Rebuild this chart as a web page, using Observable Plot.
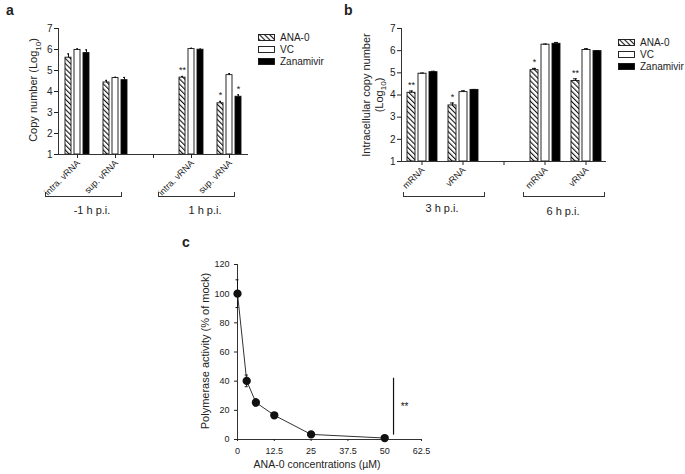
<!DOCTYPE html>
<html><head><meta charset="utf-8">
<script src="https://cdn.jsdelivr.net/npm/d3@7"></script>
<script src="https://cdn.jsdelivr.net/npm/@observablehq/plot@0.6"></script>
<style>
body{margin:0;background:#fff;font-family:"Liberation Sans",Arial,sans-serif;color:#222;}
#root{position:relative;width:685px;height:474px;overflow:hidden;background:#fff;}
.plab{position:absolute;font-weight:bold;font-size:14px;}
.ylab{position:absolute;font-size:11px;white-space:nowrap;transform:translate(-50%,-50%) rotate(-90deg);text-align:center;line-height:13px;}
.brk{position:absolute;border:1px solid #333;border-top:none;height:4px;}
.grp{position:absolute;font-size:11px;transform:translate(-50%,-50%);white-space:nowrap;}
.leg{position:absolute;font-size:10px;}
.leg .row{display:flex;align-items:center;height:12px;}
.leg svg{margin-right:5px;}
</style></head>
<body>
<svg width="0" height="0" style="position:absolute">
  <defs>
    <pattern id="hatch" patternUnits="userSpaceOnUse" width="3.6" height="3.6" patternTransform="rotate(-45)">
      <rect width="3.6" height="3.6" fill="white"/>
      <line x1="0" y1="0" x2="0" y2="3.6" stroke="#111" stroke-width="2.2"/>
    </pattern>
  </defs>
</svg>
<div id="root"></div>
<script>
// ---------- Data ----------
const series = ["ANA-0", "VC", "Zanamivir"];
const seriesFill = ["url(#hatch)", "white", "black"];

// Panel a
const catsA = ["m1_intra", "m1_sup", "gapA", "p1_intra", "p1_sup"];
const catLabelsA = ["intra. vRNA", "sup. vRNA", "", "intra. vRNA", "sup. vRNA"];
const aANA = [5.61, 4.43, null, 4.66, 3.44];
const aVC  = [5.98, 4.64, null, 6.02, 4.78];
const aZan = [5.83, 4.54, null, 5.99, 3.75];
const aErrANA = [0.18, 0.10, null, 0.06, 0.09];
const aErrVC  = [0.05, 0.04, null, 0.04, 0.07];
const aErrZan = [0.15, 0.13, null, 0.03, 0.09];
const aSigANA = ["", "", "", "**", "*"];
const aSigVC  = ["", "", "", "", ""];
const aSigZan = ["", "", "", "", "*"];
const groupsA = ["-1 h p.i.", "1 h p.i."];

// Panel b
const catsB = ["h3_m", "h3_v", "gapB", "h6_m", "h6_v"];
const catLabelsB = ["mRNA", "vRNA", "", "mRNA", "vRNA"];
const bANA = [4.10, 3.53, null, 5.12, 4.63];
const bVC  = [4.96, 4.13, null, 6.27, 6.03];
const bZan = [5.03, 4.23, null, 6.31, 5.98];
const bErrANA = [0.08, 0.11, null, 0.08, 0.10];
const bErrVC  = [0.03, 0.06, null, 0.03, 0.06];
const bErrZan = [0.04, 0.02, null, 0.06, 0.02];
const bSigANA = ["**", "*", "", "*", "**"];
const bSigVC  = ["", "", "", "", ""];
const bSigZan = ["", "", "", "", ""];
const groupsB = ["3 h p.i.", "6 h p.i."];

// Panel c
const conc = [0, 3.125, 6.25, 12.5, 25, 50];
const activity = [100, 40.2, 25.4, 16.6, 3.5, 1.0];
const activityErr = [9.5, 4.0, 2.5, 1.0, 0.6, 0.4];
const concTicks = [0, 12.5, 25, 37.5, 50, 62.5];
const actTicks = [0, 20, 40, 60, 80, 100, 120];
const sigC = [{x: 53, y1: 3, y2: 42, label: "**"}];

// ---------- Helpers ----------
function rows(cats, vals, errs, sigs) {
  const out = [];
  cats.forEach((c, i) => {
    series.forEach((s, j) => {
      if (vals[j][i] != null) out.push({cat: c, series: s, value: vals[j][i], err: errs[j][i], sig: sigs[j][i]});
    });
  });
  return out;
}
const font = {fontFamily: "'Liberation Sans', Arial, sans-serif", fontSize: "10px", color: "#222", background: "transparent", overflow: "visible"};

function barPanel({cats, labels, data, width, height, marginLeft, marginRight, marginTop, marginBottom, xPadInner, xPadOuter}) {
  const catRows = cats.map((c, i) => ({cat: c, label: labels[i]}));
  return Plot.plot({
    width, height, marginLeft, marginRight, marginTop, marginBottom,
    style: font,
    fx: {domain: cats, padding: 0, paddingOuter: 0, paddingInner: 0, axis: null},
    x: {domain: series, paddingInner: xPadInner, paddingOuter: xPadOuter, axis: null},
    y: {domain: [1, 7], axis: null},
    color: {domain: series, range: seriesFill},
    marks: [
      Plot.barY(data, {fx: "cat", x: "series", y1: 1, y2: "value", fill: "series", stroke: "#111", strokeWidth: 0.9}),
      Plot.ruleX(data, {fx: "cat", x: "series", y1: "value", y2: d => d.value + d.err, stroke: "#111", strokeWidth: 1}),
      Plot.tickY(data, {fx: "cat", x: "series", y: d => d.value + d.err, stroke: "#111", strokeWidth: 1, insetLeft: 2, insetRight: 2}),
      Plot.text(data.filter(d => d.sig), {fx: "cat", x: "series", y: d => d.value + d.err, text: "sig", dy: -3, lineAnchor: "bottom", fontSize: 9, fill: "#111"}),
      Plot.ruleY(catRows, {fx: "cat", y: () => 1, stroke: "#333", strokeWidth: 1}),
      Plot.frame({anchor: "left", facetAnchor: "left", stroke: "#333", strokeWidth: 1}),
      Plot.axisY({ticks: [1,2,3,4,5,6,7], tickSize: 4, tickPadding: 2, label: null, facetAnchor: "left", tickFormat: d3.format("d")}),
      Plot.axisFx({anchor: "bottom", tickSize: 4, tickFormat: () => "", label: null}),
      Plot.text(catRows, {fx: "cat", frameAnchor: "bottom", text: "label", rotate: -45, textAnchor: "end", lineAnchor: "middle", dx: 1, dy: 7, fontSize: 9, fill: "#222"})
    ]
  });
}

const root = document.getElementById("root");
function place(el, left, top) { el.style.position = "absolute"; el.style.left = left + "px"; el.style.top = top + "px"; root.appendChild(el); return el; }
function div(cls, text, left, top) { const d = document.createElement("div"); d.className = cls; d.innerHTML = text; d.style.left = left + "px"; d.style.top = top + "px"; root.appendChild(d); return d; }
function bracket(l, r, top) { const d = document.createElement("div"); d.className = "brk"; d.style.left = l + "px"; d.style.top = (top - 4) + "px"; d.style.width = (r - l) + "px"; root.appendChild(d); }
function legend(left, top, rowH) {
  const d = document.createElement("div"); d.className = "leg"; d.style.left = left + "px"; d.style.top = top + "px";
  series.forEach((s, i) => {
    const r = document.createElement("div"); r.className = "row"; r.style.height = rowH + "px";
    r.innerHTML = `<svg width="17" height="7"><rect x="0.5" y="0.5" width="16" height="6" fill="${seriesFill[i]}" stroke="#111" stroke-width="0.9"/></svg><span>${s}</span>`;
    d.appendChild(r);
  });
  root.appendChild(d);
}

// ---------- Panel a ----------
const dataA = rows(catsA, [aANA, aVC, aZan], [aErrANA, aErrVC, aErrZan], [aSigANA, aSigVC, aSigZan]);
place(barPanel({cats: catsA, labels: catLabelsA, data: dataA, width: 250, height: 200, marginLeft: 57, marginRight: 2, marginTop: 28, marginBottom: 46, xPadInner: 0.3, xPadOuter: 0.56}), 0, 0);
div("plab", "a", 6, 2);
div("ylab", "Copy number (Log<sub style='font-size:8px'>10</sub>)", 36, 90);
legend(258, 31, 12.3);
bracket(45, 120, 196); bracket(158, 233, 196);
div("grp", groupsA[0], 92, 210); div("grp", groupsA[1], 205, 210);

// ---------- Panel b ----------
const dataB = rows(catsB, [bANA, bVC, bZan], [bErrANA, bErrVC, bErrZan], [bSigANA, bSigVC, bSigZan]);
place(barPanel({cats: catsB, labels: catLabelsB, data: dataB, width: 270, height: 206, marginLeft: 60, marginRight: 3, marginTop: 28, marginBottom: 45, xPadInner: 0.3, xPadOuter: 0.45}), 340, 0);
div("plab", "b", 344, 2);
div("ylab", "Intracellular copy number<br>(Log<sub style='font-size:8px'>10</sub>)", 375, 95);
legend(618, 37, 11.7);
bracket(403, 483, 196); bracket(523, 603, 196);
div("grp", groupsB[0], 442, 208); div("grp", groupsB[1], 563, 211);

// ---------- Panel c ----------
const dataC = conc.map((x, i) => ({x, y: activity[i], e: activityErr[i]}));
const capsC = dataC.flatMap(d => [{x: d.x, y: d.y - d.e}, {x: d.x, y: d.y + d.e}]);
const plotC = Plot.plot({
  width: 250, height: 244, marginLeft: 57, marginRight: 9, marginTop: 34, marginBottom: 35,
  style: {...font, fontSize: "9px"},
  x: {type: "linear", domain: [0, 62.5], axis: null},
  y: {type: "linear", domain: [0, 120], axis: null},
  marks: [
    Plot.ruleX([0], {stroke: "#333"}),
    Plot.ruleY([0], {stroke: "#333"}),
    Plot.axisX({ticks: concTicks, tickSize: 2, tickPadding: 6, tickFormat: d => String(d), label: null, fontSize: 9}),
    Plot.axisY({ticks: actTicks, tickSize: 3, tickPadding: 5, label: null, fontSize: 9}),
    Plot.ruleX(dataC, {x: "x", y1: d => d.y - d.e, y2: d => d.y + d.e, stroke: "#111"}),
    Plot.ruleY(capsC, {x1: "x", x2: "x", y: "y", insetLeft: -1.5, insetRight: -1.5, stroke: "#111"}),
    Plot.line(dataC, {x: "x", y: "y", stroke: "#333", strokeWidth: 1}),
    Plot.dot(dataC, {x: "x", y: "y", r: 3.4, fill: "#111", stroke: "#111"}),
    Plot.ruleX(sigC, {x: "x", y1: "y1", y2: "y2", stroke: "#111", strokeWidth: 1.2}),
    Plot.text(sigC, {x: "x", y: d => (d.y1 + d.y2) / 2, text: "label", dx: 11, fontSize: 10, fill: "#111"})
  ]
});
place(plotC, 180, 230);
div("plab", "c", 182, 234);
div("ylab", "Polymerase activity (% of mock)", 205, 351);
const xl = div("grp", "ANA-0 concentrations (µM)", 317, 464);
xl.style.fontSize = "10.5px";
</script>
</body></html>
